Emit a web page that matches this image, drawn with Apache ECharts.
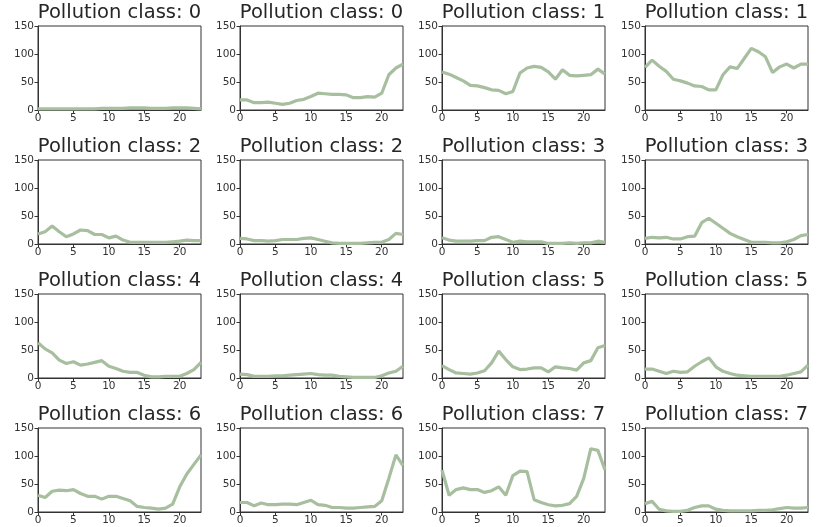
<!DOCTYPE html>
<html><head><meta charset="utf-8">
<script src="https://cdn.jsdelivr.net/npm/echarts@6/dist/echarts.min.js"></script>
<style>html,body{margin:0;padding:0;background:#fff}#c{width:817px;height:527px}</style>
</head><body><div id="c"></div>
<script>
const hours = [0,1,2,3,4,5,6,7,8,9,10,11,12,13,14,15,16,17,18,19,20,21,22,23];
const classLabels = [0,0,1,1,2,2,3,3,4,4,5,5,6,6,7,7];
const xTicks = [0,5,10,15,20];
const yTicks = [0,50,100,150];

const s00 = [2,2,2,2,2,2,2,2,2,3,3,3,3,4,4,4,3,3,3,4,4,4,3,2];
const s01 = [18,18,13,13,14,12,10,12,17,19,24,30,29,28,28,27,22,22,24,23,30,63,75,82];
const s02 = [68,64,58,52,44,43,40,36,35,29,33,66,75,78,76,68,55,72,62,61,62,63,73,64];
const s03 = [76,89,78,69,55,52,48,43,42,36,36,63,77,74,92,110,104,95,67,77,82,75,82,82];
const s04 = [18,22,32,22,13,18,25,24,17,17,11,14,7,3,3,3,3,3,3,4,5,7,6,6];
const s05 = [10,9,6,6,5,6,8,8,8,10,11,8,5,2,1,1,1,1,2,3,3,8,19,17];
const s06 = [11,7,5,5,5,6,6,12,13,8,3,5,4,4,4,1,1,1,2,1,2,2,5,3];
const s07 = [10,12,11,12,9,9,13,14,38,46,37,28,19,13,8,3,3,3,2,2,4,8,15,17];
const s08 = [63,52,45,32,26,29,23,25,28,31,21,17,12,10,10,5,2,2,3,3,3,8,15,28];
const s09 = [7,6,3,3,3,4,4,5,6,7,8,6,5,5,3,2,1,1,1,1,4,9,12,21];
const s10 = [22,15,9,8,7,9,13,27,48,33,20,15,16,18,18,11,20,18,17,14,27,31,54,58];
const s11 = [16,16,12,8,12,10,11,21,29,36,20,12,8,5,4,3,3,3,3,3,5,8,11,23];
const s12 = [30,26,37,39,38,40,33,28,28,23,28,28,24,20,10,8,7,5,7,14,45,68,85,102];
const s13 = [17,17,11,16,13,13,14,14,13,17,21,13,12,8,8,7,7,8,9,10,20,60,102,83];
const s14 = [75,30,40,43,40,40,35,38,45,30,65,73,72,22,17,13,11,12,15,28,60,113,110,75];
const s15 = [15,19,5,2,1,1,3,8,11,11,5,3,2,2,2,2,3,3,4,6,8,7,7,8];
const allSeries = [s00,s01,s02,s03,s04,s05,s06,s07,s08,s09,s10,s11,s12,s13,s14,s15];

const colLeft = [38,240,442,645];
const rowTop = [26,160,294,428];
const W = 163, H = 84;

const grids=[], xAxes=[], yAxes=[], series=[], titles=[];
allSeries.forEach((vals,i)=>{
  const r = Math.floor(i/4), c = i%4;
  grids.push({left:colLeft[c], top:rowTop[r], width:W, height:H, show:true, borderColor:'#333', borderWidth:1, backgroundColor:'#fff'});
  titles.push({text:'Pollution class: '+classLabels[i], left:colLeft[c]+W/2, top:rowTop[r]-23, textAlign:'center', padding:0,
    textStyle:{fontFamily:'DejaVu Sans', fontSize:19.5, fontWeight:'normal', color:'#262626'}});
  xAxes.push({gridIndex:i, type:'value', min:0, max:23,
    axisLine:{show:true, onZero:false, lineStyle:{color:'#333', width:1}},
    axisTick:{show:true, length:3.5, lineStyle:{color:'#333'}, customValues: xTicks},
    axisLabel:{show:true, fontFamily:'DejaVu Sans', fontSize:10.5, color:'#333', margin:3,
      customValues: xTicks},
    splitLine:{show:false}});
  yAxes.push({gridIndex:i, type:'value', min:0, max:150, interval:50,
    axisLine:{show:true, lineStyle:{color:'#333', width:1}},
    axisTick:{show:true, length:3.5, lineStyle:{color:'#333'}, customValues: yTicks},
    axisLabel:{show:true, fontFamily:'DejaVu Sans', fontSize:10.5, color:'#333', margin:4, customValues: yTicks},
    splitLine:{show:false}});
  series.push({type:'line', xAxisIndex:i, yAxisIndex:i, symbol:'none', smooth:false,
    data: hours.map((h,k)=>[h, vals[k]]),
    lineStyle:{color:'#a7be9f', width:3.2}, z:3});
});

const chart = echarts.init(document.getElementById('c'), null, {renderer:'canvas'});
chart.setOption({animation:false, title:titles, grid:grids, xAxis:xAxes, yAxis:yAxes, series:series});
</script></body></html>
